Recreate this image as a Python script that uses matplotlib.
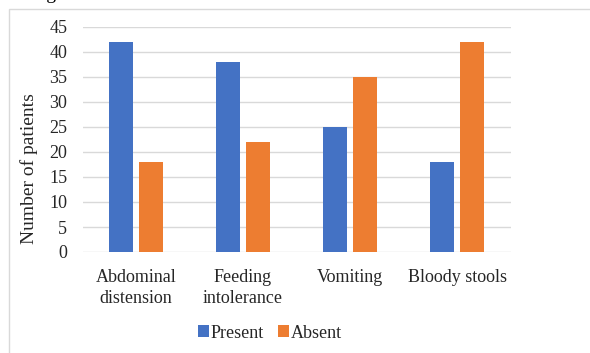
import matplotlib.pyplot as plt
from matplotlib.patches import Rectangle
import numpy as np

categories = ['Abdominal\ndistension', 'Feeding\nintolerance', 'Vomiting', 'Bloody stools']
present = [42, 38, 25, 18]
absent = [18, 22, 35, 42]
yticks = [0, 5, 10, 15, 20, 25, 30, 35, 40, 45]

plt.rcParams['font.family'] = ['Liberation Serif', 'DejaVu Serif']

fig = plt.figure(figsize=(5.9, 3.53), dpi=100)
ax = fig.add_axes([82.5 / 590, 101 / 353, 428 / 590, 225 / 353])

x = np.arange(len(categories))
w = 0.225
ax.bar(x - 0.14, present, w, color='#4472C4', label='Present')
ax.bar(x + 0.14, absent, w, color='#ED7D31', label='Absent')

ax.set_xlim(-0.5, 3.5)
ax.set_ylim(0, 45)
ax.set_yticks(yticks)
ax.set_xticks(x)
ax.set_xticklabels(categories, fontsize=13, linespacing=1.35)
ax.tick_params(axis='y', length=0, pad=11, labelsize=13, colors='#262626')
ax.tick_params(axis='x', length=0, pad=12, colors='#262626')
ax.yaxis.grid(True, color='#D9D9D9', linewidth=1)
ax.set_axisbelow(True)
for s in ax.spines.values():
    s.set_visible(False)
ax.set_ylabel('Number of patients', fontsize=14, color='#262626')
ax.yaxis.set_label_coords(-0.103, 0.373)

fig.legend(loc='center', bbox_to_anchor=(270 / 590, 1 - 333 / 353), ncol=2,
           frameon=False, fontsize=13, handlelength=0.6, handleheight=0.6,
           handletextpad=0.1, columnspacing=0.8, labelcolor='#262626')

# outer chart frame
fig.patches.append(Rectangle((9 / 590, -0.1), 1.2, 1.1 - 9 / 353,
                             transform=fig.transFigure, fill=False,
                             edgecolor='#D9D9D9', linewidth=1))
# caption cut off at the top
fig.text(56 / 590, 1.004, 'Fig', ha='right', va='baseline', fontsize=14)

fig.savefig('out.png', dpi=100)
